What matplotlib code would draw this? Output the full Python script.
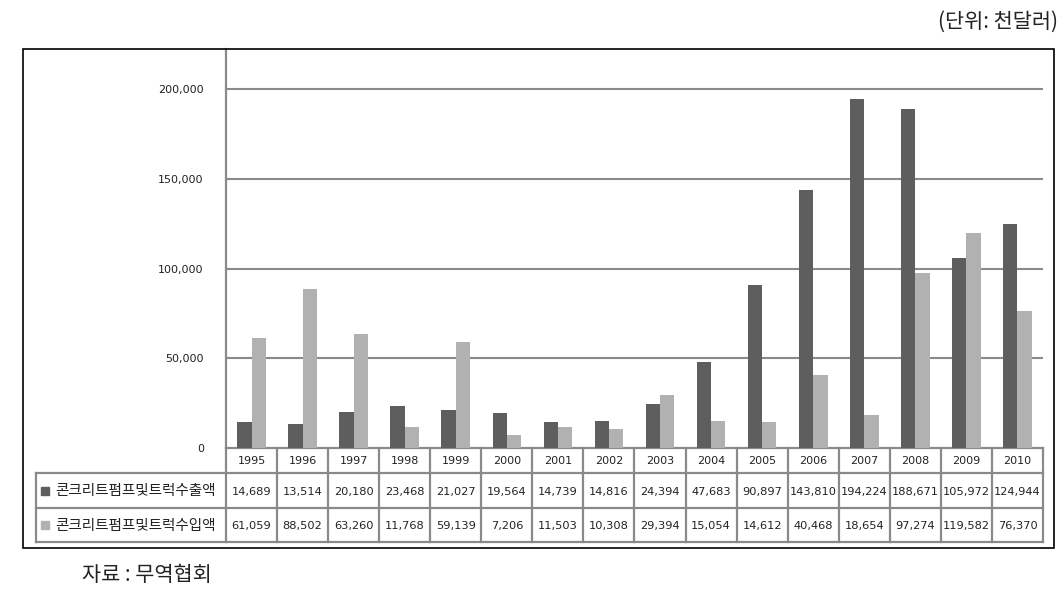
import matplotlib
matplotlib.use("Agg")
import matplotlib.pyplot as plt
from matplotlib.transforms import blended_transform_factory
from matplotlib.patches import Rectangle
import numpy as np

plt.rcParams['font.family'] = ['DejaVu Sans', 'Noto Sans CJK KR']

years = ['1995', '1996', '1997', '1998', '1999', '2000', '2001', '2002',
         '2003', '2004', '2005', '2006', '2007', '2008', '2009', '2010']
exports = [14689, 13514, 20180, 23468, 21027, 19564, 14739, 14816,
           24394, 47683, 90897, 143810, 194224, 188671, 105972, 124944]
imports = [61059, 88502, 63260, 11768, 59139, 7206, 11503, 10308,
           29394, 15054, 14612, 40468, 18654, 97274, 119582, 76370]
series_names = ['콘크리트펌프및트럭수출액', '콘크리트펌프및트럭수입액']
yticks = [0, 50000, 100000, 150000, 200000]
unit_text = '(단위: 천달러)'
source_text = '자료 : 무역협회'

W, H = 1064, 594
fig = plt.figure(figsize=(W / 100, H / 100), dpi=100)


def fy(y):
    return 1 - y / H


def fx(x):
    return x / W


L, R, T, B = 226, 1043, 49, 448
ax = fig.add_axes([fx(L), fy(B), fx(R) - fx(L), fy(T) - fy(B)])

dark = '#5e5e5e'
light = '#b1b1b1'
gridc = '#8a8a8a'
txtc = '#222222'
cjk = ['Noto Sans CJK KR', 'DejaVu Sans']

x = np.arange(len(years))
bw = 0.28
ax.bar(x - bw / 2, exports, bw, color=dark, zorder=3)
ax.bar(x + bw / 2, imports, bw, color=light, zorder=3)

ax.set_xlim(-0.5, len(years) - 0.5)
ymax = 200000 * (B - T) / (B - 89)
ax.set_ylim(0, ymax)
ax.set_yticks(yticks)
ax.set_yticklabels([f'{v:,}' for v in yticks], fontsize=8, color=txtc)
ax.tick_params(axis='y', length=0, pad=16)
ax.set_xticks([])
for v in yticks[1:]:
    ax.axhline(v, color=gridc, lw=1.5, zorder=1)
for s in ['top', 'right', 'bottom']:
    ax.spines[s].set_visible(False)
ax.spines['left'].set_color(gridc)
ax.spines['left'].set_linewidth(1.6)

# Data table below the chart
tr = blended_transform_factory(ax.transData, fig.transFigure)
row_y = [448, 473, 508, 542]
lw_t = 1.6
n = len(years)
ax.plot([-0.5, n - 0.5], [fy(row_y[0])] * 2, transform=tr, color=gridc, lw=lw_t, clip_on=False)
for yy in row_y[1:]:
    fig.add_artist(plt.Line2D([fx(36), fx(R)], [fy(yy)] * 2, color=gridc, lw=lw_t))
for i in range(n + 1):
    ax.plot([i - 0.5, i - 0.5], [fy(row_y[0]), fy(row_y[3])], transform=tr,
            color=gridc, lw=lw_t, clip_on=False)
fig.add_artist(plt.Line2D([fx(36), fx(36)], [fy(row_y[1]), fy(row_y[3])], color=gridc, lw=lw_t))

for i, yr in enumerate(years):
    ax.text(i, fy((row_y[0] + row_y[1]) / 2 + 1), yr, transform=tr, ha='center', va='center',
            fontsize=8, color=txtc)
    ax.text(i, fy((row_y[1] + row_y[2]) / 2 + 1), f'{exports[i]:,}', transform=tr,
            ha='center', va='center', fontsize=8.2, color=txtc)
    ax.text(i, fy((row_y[2] + row_y[3]) / 2 + 1), f'{imports[i]:,}', transform=tr,
            ha='center', va='center', fontsize=8.2, color=txtc)

for k, (name, col) in enumerate(zip(series_names, [dark, light])):
    yc = (row_y[k + 1] + row_y[k + 2]) / 2
    fig.add_artist(Rectangle((fx(41), fy(yc + 4)), fx(8), 8 / H, color=col))
    fig.text(fx(55), fy(yc + 1), name, ha='left', va='center', fontsize=10.5,
             family=cjk, color=txtc)

# outer frame
fig.add_artist(Rectangle((fx(23), fy(548)), fx(1054 - 23), (548 - 49) / H,
                         fill=False, edgecolor='black', lw=1.2))

fig.text(fx(1058), fy(22), unit_text, ha='right', va='center', fontsize=15,
         family=cjk, color=txtc)
fig.text(fx(82), fy(575), source_text, ha='left', va='center', fontsize=15,
         family=cjk, color=txtc)

fig.savefig('out.png', dpi=100)
